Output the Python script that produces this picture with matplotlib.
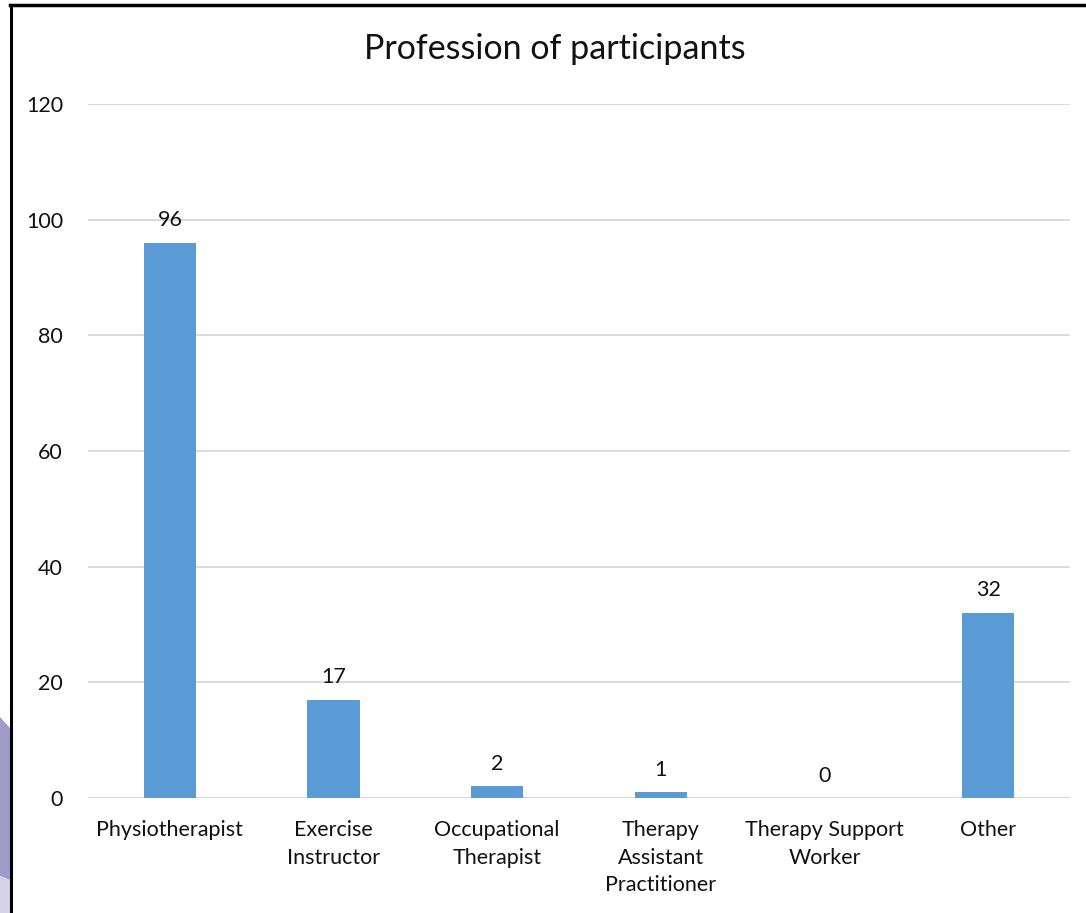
import matplotlib
matplotlib.use("Agg")
import matplotlib.pyplot as plt
from matplotlib.lines import Line2D
from matplotlib.patches import Polygon

categories = ["Physiotherapist", "Exercise\nInstructor", "Occupational\nTherapist",
              "Therapy\nAssistant\nPractitioner", "Therapy Support\nWorker", "Other"]
counts = [96, 17, 2, 1, 0, 32]
y_ticks = [0, 20, 40, 60, 80, 100, 120]
title = "Profession of participants"

plt.rcParams["font.family"] = ["Lato", "DejaVu Sans"]
text_color = "#111111"
bar_color = "#5B9BD5"
grid_color = "#D9D9D9"

W, H = 1086, 913
fig = plt.figure(figsize=(W / 100, H / 100), dpi=100)
ax = fig.add_axes([88 / W, 1 - 798 / H, (1070 - 88) / W, (798 - 104) / H])

x = list(range(len(categories)))
bars = ax.bar(x, counts, width=0.32, color=bar_color, zorder=3)
for xi, v in zip(x, counts):
    ax.annotate(str(v), (xi, v), xytext=(0, 9), textcoords="offset points",
                ha="center", va="bottom", fontsize=15.5, color=text_color)

ax.set_xlim(-0.5, len(categories) - 0.5)
ax.set_ylim(0, 120)
ax.set_yticks(y_ticks)
ax.set_yticklabels([str(t) for t in y_ticks], fontsize=15.5, color=text_color)
ax.set_xticks(x)
ax.set_xticklabels(categories, fontsize=15.5, color=text_color, linespacing=1.47)
ax.tick_params(axis="both", length=0)
ax.tick_params(axis="y", pad=18)
ax.tick_params(axis="x", pad=16)
ax.grid(axis="y", color=grid_color, linewidth=1.3, zorder=0)
for s in ax.spines.values():
    s.set_visible(False)
ax.axhline(0, color=grid_color, linewidth=1.6, zorder=2)

fig.text(555 / W, 1 - 49 / H, title, ha="center", va="center",
         fontsize=24.5, color=text_color)

# frame lines along the top and left edges
fig.add_artist(Line2D([10 / W, 1.0], [1 - 5 / H, 1 - 5 / H], color="black",
                      linewidth=2.5, transform=fig.transFigure))
fig.add_artist(Line2D([11 / W, 11 / W], [0, 1 - 5 / H], color="black",
                      linewidth=2.2, transform=fig.transFigure))

# shaded shape at the lower left corner
fig.add_artist(Polygon([(0, 1 - 717 / H), (10 / W, 1 - 728 / H), (10 / W, 1 - 880 / H),
                        (0, 1 - 876 / H)], closed=True, facecolor="#A09BC8",
                       edgecolor="none", transform=fig.transFigure))
fig.add_artist(Polygon([(0, 1 - 876 / H), (10 / W, 1 - 880 / H), (10 / W, 0), (0, 0)],
                       closed=True, facecolor="#D4D0E6", edgecolor="none",
                       transform=fig.transFigure))

fig.savefig("out.png", dpi=100)
